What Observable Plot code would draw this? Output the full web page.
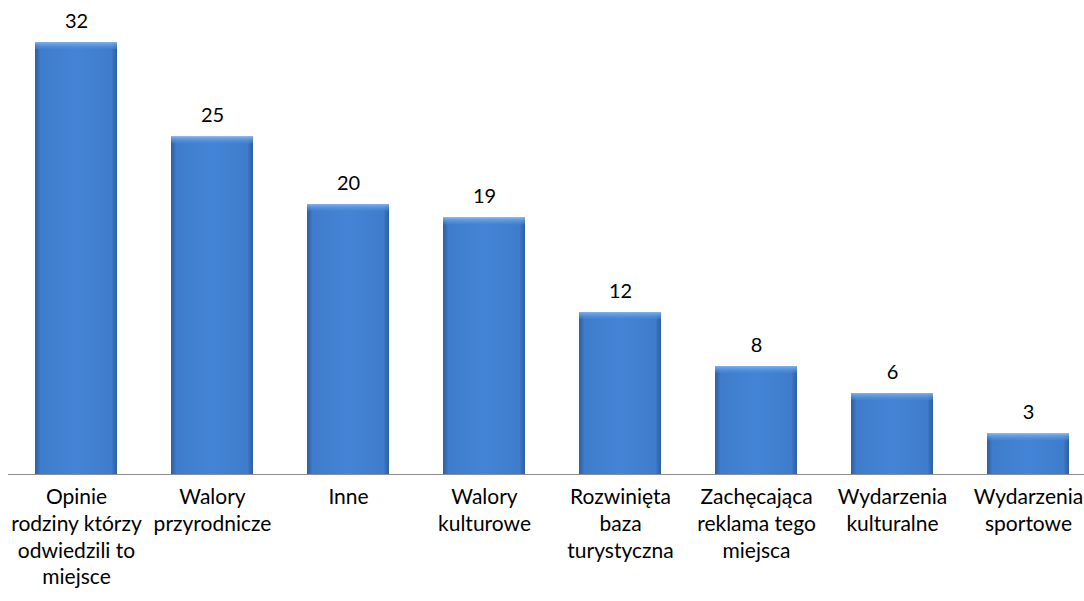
<!DOCTYPE html>
<html>
<head>
<meta charset="utf-8">
<script src="https://cdn.jsdelivr.net/npm/d3@7"></script>
<script src="https://cdn.jsdelivr.net/npm/@observablehq/plot@0.6"></script>
<style>
  html, body { margin: 0; padding: 0; background: #fff; overflow: hidden; }
  #chart { width: 1084px; height: 601px; }
</style>
</head>
<body>
<div id="chart"></div>
<script>
const categories = [
  "Opinie\nrodziny którzy\nodwiedzili to\nmiejsce",
  "Walory\nprzyrodnicze",
  "Inne",
  "Walory\nkulturowe",
  "Rozwinięta\nbaza\nturystyczna",
  "Zachęcająca\nreklama tego\nmiejsca",
  "Wydarzenia\nkulturalne",
  "Wydarzenia\nsportowe"
];
const values = [32, 25, 20, 19, 12, 8, 6, 3];

const data = categories.map((c, i) => ({cat: c, value: values[i]}));

const plot = Plot.plot({
  width: 1084,
  height: 601,
  marginTop: 0,
  marginBottom: 127,
  marginLeft: 8,
  marginRight: 0,
  style: {fontFamily: "Lato, 'Liberation Sans', sans-serif", fontSize: "21px", color: "#000", overflow: "visible"},
  x: {domain: categories, range: [7.8, 1095.8], paddingInner: 0.4, paddingOuter: 0.2, axis: null},
  y: {domain: [0, 35], range: [474, 1.5], axis: null},
  marks: [
    Plot.barY(data, {x: "cat", y: "value", fill: "url(#barGrad)"}),
    Plot.barY(data, {x: "cat", y1: "value", y2: "value", insetBottom: -7, fill: "url(#topGrad)"}),
    Plot.ruleY([0], {stroke: "#8c8c8c", strokeWidth: 1.2}),
    Plot.text(data, {x: "cat", y: "value", text: d => String(d.value), lineAnchor: "bottom", dy: -15, fontSize: 20, fill: "#000"}),
    Plot.text(data, {x: "cat", y: 0, text: "cat", lineAnchor: "top", dy: 11, lineHeight: 1.27, fontSize: 21, fill: "#000"})
  ]
});

const svg = d3.select(plot);
const defs = svg.insert("defs", ":first-child");
const g = defs.append("linearGradient").attr("id", "barGrad").attr("x1", "0").attr("x2", "1").attr("y1", "0").attr("y2", "0");
g.append("stop").attr("offset", "0%").attr("stop-color", "#2c5f9f");
g.append("stop").attr("offset", "7%").attr("stop-color", "#3f7ccb");
g.append("stop").attr("offset", "50%").attr("stop-color", "#4484d6");
g.append("stop").attr("offset", "93%").attr("stop-color", "#3f7ccb");
g.append("stop").attr("offset", "100%").attr("stop-color", "#2c5f9f");
const t = defs.append("linearGradient").attr("id", "topGrad").attr("x1", "0").attr("x2", "0").attr("y1", "0").attr("y2", "1");
t.append("stop").attr("offset", "0%").attr("stop-color", "#7fb2ee");
t.append("stop").attr("offset", "100%").attr("stop-color", "#4a8ad9").attr("stop-opacity", 0.3);

document.getElementById("chart").appendChild(plot);
</script>
</body>
</html>
